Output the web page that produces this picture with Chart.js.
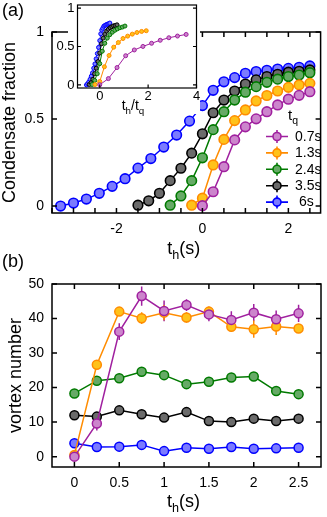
<!DOCTYPE html>
<html>
<head>
<meta charset="utf-8">
<script src="https://cdn.jsdelivr.net/npm/chart.js@4.4.1/dist/chart.umd.min.js"></script>
<style>
  html, body { margin: 0; padding: 0; background: #fff; }
  #wrap { position: relative; width: 327px; height: 517px; overflow: hidden; }
  canvas { position: absolute; }
  #chartA { left: 0; top: 0; }
  #chartB { left: 0; top: 250px; }
  #inset { left: 55px; top: 0; z-index: 2; }
</style>
</head>
<body>
<div id="wrap">
  <canvas id="chartA" width="327" height="265"></canvas>
  <canvas id="chartB" width="327" height="267"></canvas>
  <canvas id="inset" width="147" height="120"></canvas>
</div>
<script>
const FONT = '"Liberation Sans", Arial, Helvetica, sans-serif';

// quench times t_q
const quenchLabels = ['0.7s', '1.3s', '2.4s', '3.5s', ' 6s'];
const quenchTimes = [0.7, 1.3, 2.4, 3.5, 6];

// (a) condensate fraction vs hold time t_h (s)
const holdPurple = [0, 0.25, 0.5, 0.75, 1, 1.25, 1.5, 1.75, 2, 2.25, 2.5];
const fracPurple = [0.002, 0.082, 0.226, 0.38, 0.455, 0.501, 0.542, 0.581, 0.614, 0.636, 0.657];
const holdOrange = [-0.25, 0, 0.25, 0.5, 0.75, 1, 1.25, 1.5, 1.75, 2, 2.25, 2.5];
const fracOrange = [0.005, 0.045, 0.236, 0.383, 0.491, 0.552, 0.604, 0.635, 0.661, 0.682, 0.696, 0.705];
const holdGreen = [-0.75, -0.5, -0.25, 0, 0.25, 0.5, 0.75, 1, 1.25, 1.5, 1.75, 2, 2.25, 2.5];
const fracGreen = [0.005, 0.058, 0.146, 0.277, 0.439, 0.542, 0.609, 0.654, 0.686, 0.711, 0.729, 0.744, 0.753, 0.766];
const holdBlack = [-1.5, -1.25, -1, -0.75, -0.5, -0.25, 0, 0.25, 0.5, 0.75, 1, 1.25, 1.5, 1.75, 2, 2.25, 2.5];
const fracBlack = [0.005, 0.03, 0.073, 0.146, 0.217, 0.304, 0.415, 0.536, 0.609, 0.661, 0.701, 0.725, 0.744, 0.757, 0.769, 0.774, 0.782];
const holdBlue = [-3.3, -3, -2.7, -2.4, -2.1, -1.8, -1.5, -1.2, -0.9, -0.6, -0.3, 0, 0.25, 0.5, 0.75, 1, 1.25, 1.5, 1.75, 2, 2.25, 2.5];
const fracBlue = [0, 0.017, 0.04, 0.073, 0.113, 0.157, 0.218, 0.273, 0.339, 0.408, 0.488, 0.577, 0.665, 0.714, 0.738, 0.763, 0.773, 0.78, 0.787, 0.791, 0.797, 0.805];

// (b) vortex number vs hold time t_h (s)
const holdB = [0, 0.25, 0.5, 0.75, 1, 1.25, 1.5, 1.75, 2, 2.25, 2.5];
const vortexPurple = [0, 9.6, 36.2, 46.5, 42.2, 43.9, 41.2, 39.6, 41.7, 39.8, 41.5];
const vortexOrange = [0.5, 26.6, 42.0, 40.1, 41.7, 40.3, 42.0, 37.6, 36.9, 37.7, 37.1];
const vortexGreen = [18.3, 22.0, 22.7, 24.6, 23.6, 21.0, 21.7, 22.9, 23.2, 19.0, 18.1];
const vortexBlack = [12.0, 11.6, 13.4, 12.3, 11.3, 12.9, 10.3, 10.0, 11.0, 10.3, 11.0];
const vortexBlue = [3.9, 2.8, 2.9, 3.4, 1.6, 2.6, 2.3, 2.8, 2.3, 2.4, 2.6];
const errPurple = [0.5, 2, 2.4, 2.8, 3, 1.7, 2, 2.5, 2.5, 2.5, 2.5];
const errOrange = [0.5, 1, 1, 1.7, 2.2, 1.5, 1.5, 1.5, 2.5, 2.5, 1];

// ticks
const tickXA = [-3.5, -3, -2.5, -2, -1.5, -1, -0.5, 0, 0.5, 1, 1.5, 2, 2.5];
const labelXA = [-2, 0, 2];
const tickYA = [0, 0.5, 1];
const tickXInset = [0, 2, 4];
const tickYInset = [0, 0.5, 1];
const tickXB = [0, 0.5, 1, 1.5, 2, 2.5];
const tickYB = [0, 10, 20, 30, 40, 50];

const lineColors = ['#a0209f', '#ff8c00', '#007a00', '#000000', '#0000ff'];
const fillColors = ['#cc85cc', '#ffc21a', '#66aa66', '#6b6b6b', '#7b7bff'];

const holdA = [holdPurple, holdOrange, holdGreen, holdBlack, holdBlue];
const fracA = [fracPurple, fracOrange, fracGreen, fracBlack, fracBlue];
const vortexB = [vortexPurple, vortexOrange, vortexGreen, vortexBlack, vortexBlue];
const errB = [errPurple, errOrange, null, null, null];

function drawSub(ctx, x, y, parts, size, align) {
  const sizes = parts.map(p => p[1] ? size * 0.7 : size);
  const widths = parts.map((p, i) => { ctx.font = sizes[i] + 'px ' + FONT; return ctx.measureText(p[0]).width; });
  const w = widths.reduce((s, v) => s + v, 0);
  let cx = align === 'left' ? x : x - w / 2;
  ctx.textAlign = 'left';
  parts.forEach((p, i) => {
    ctx.font = sizes[i] + 'px ' + FONT;
    ctx.fillText(p[0], cx, p[1] ? y + size * 0.25 : y);
    cx += widths[i];
  });
}

function makeAxis(min, max, labels, size, pad, fit, horizontal) {
  return {
    type: 'linear', min: min, max: max,
    grid: { display: false, drawTicks: false },
    border: { display: false },
    ticks: { font: { family: FONT, size: size }, color: '#000', padding: pad, maxRotation: 0, autoSkip: false, callback: v => String(v) },
    afterBuildTicks: s => { s.ticks = labels.map(v => ({ value: v })); },
    afterFit: s => {
      if (horizontal) s.height = fit; else s.width = fit;
      s.paddingLeft = s.paddingRight = s.paddingTop = s.paddingBottom = 0;
    }
  };
}

// box round the plot with inward ticks
const framePlugin = {
  id: 'frame',
  afterDraw(chart, args, o) {
    const ctx = chart.ctx, a = chart.chartArea, sx = chart.scales.x, sy = chart.scales.y;
    ctx.save();
    ctx.strokeStyle = '#000';
    ctx.lineWidth = o.width;
    ctx.beginPath();
    o.xTicks.forEach(v => {
      const p = sx.getPixelForValue(v);
      ctx.moveTo(p, a.bottom); ctx.lineTo(p, a.bottom - o.len);
      if (o.mirrorX) { ctx.moveTo(p, a.top); ctx.lineTo(p, a.top + o.len); }
    });
    o.yTicks.forEach(v => {
      const p = sy.getPixelForValue(v);
      ctx.moveTo(a.left, p); ctx.lineTo(a.left + o.len, p);
      if (o.mirrorY) { ctx.moveTo(a.right, p); ctx.lineTo(a.right - o.len, p); }
    });
    ctx.stroke();
    ctx.strokeRect(a.left, a.top, a.right - a.left, a.bottom - a.top);
    ctx.restore();
  }
};

const textA = {
  id: 'textA',
  afterDraw(chart) {
    const ctx = chart.ctx, a = chart.chartArea;
    ctx.save();
    ctx.fillStyle = '#000';
    ctx.textBaseline = 'alphabetic';
    ctx.font = '18px ' + FONT;
    ctx.textAlign = 'left';
    ctx.fillText('(a)', 2, 16);
    drawSub(ctx, (a.left + a.right) / 2 - 2.5, 254, [['t'], ['h', 1], ['(s)']], 18);
    // legend
    drawSub(ctx, 288, 120, [['t'], ['q', 1]], 15, 'left');
    chart.data.datasets.forEach((ds, i) => {
      const y = 136.5 + i * 16.4;
      ctx.strokeStyle = ds.borderColor;
      ctx.lineWidth = 1.6;
      ctx.beginPath();
      ctx.moveTo(266, y); ctx.lineTo(288, y);
      ctx.moveTo(277, y - 6.5); ctx.lineTo(277, y + 6.5);
      ctx.stroke();
      ctx.beginPath();
      ctx.arc(277, y, 4, 0, Math.PI * 2);
      ctx.fillStyle = ds.backgroundColor;
      ctx.fill(); ctx.stroke();
      ctx.fillStyle = '#000';
      ctx.font = '14px ' + FONT;
      ctx.textAlign = 'left';
      ctx.textBaseline = 'middle';
      ctx.fillText(ds.label, 295, y + 0.5);
      ctx.textBaseline = 'alphabetic';
    });
    ctx.translate(15, (a.top + a.bottom) / 2);
    ctx.rotate(-Math.PI / 2);
    ctx.textAlign = 'center';
    ctx.font = '18px ' + FONT;
    ctx.fillText('Condensate fraction', 0, 0);
    ctx.restore();
  }
};

const textB = {
  id: 'textB',
  afterDraw(chart) {
    const ctx = chart.ctx, a = chart.chartArea;
    ctx.save();
    ctx.fillStyle = '#000';
    ctx.textBaseline = 'alphabetic';
    ctx.font = '18px ' + FONT;
    ctx.textAlign = 'left';
    ctx.fillText('(b)', 2, 17);
    drawSub(ctx, (a.left + a.right) / 2 - 3, 257, [['t'], ['h', 1], ['(s)']], 18);
    ctx.translate(21, (a.top + a.bottom) / 2);
    ctx.rotate(-Math.PI / 2);
    ctx.textAlign = 'center';
    ctx.font = '18px ' + FONT;
    ctx.fillText('vortex number', 0, 0);
    ctx.restore();
  }
};

const textInset = {
  id: 'textInset',
  beforeDraw(chart) {
    const ctx = chart.ctx;
    ctx.save();
    ctx.fillStyle = '#fff';
    ctx.fillRect(13, 0, 132, 114);
    ctx.restore();
  },
  afterDraw(chart) {
    const ctx = chart.ctx;
    ctx.save();
    ctx.fillStyle = '#000';
    ctx.textBaseline = 'alphabetic';
    drawSub(ctx, 78, 110, [['t'], ['h', 1], ['/t'], ['q', 1]], 14);
    ctx.restore();
  }
};

const errorBars = {
  id: 'errorBars',
  beforeDatasetsDraw(chart) {
    const ctx = chart.ctx, sx = chart.scales.x, sy = chart.scales.y;
    ctx.save();
    ctx.lineWidth = 1.5;
    chart.data.datasets.forEach(ds => {
      if (!ds.errors) return;
      ctx.strokeStyle = ds.borderColor;
      ctx.beginPath();
      ds.data.forEach((p, i) => {
        const x = sx.getPixelForValue(p.x);
        ctx.moveTo(x, sy.getPixelForValue(p.y - ds.errors[i]));
        ctx.lineTo(x, sy.getPixelForValue(p.y + ds.errors[i]));
      });
      ctx.stroke();
    });
    ctx.restore();
  }
};

function series(xs, ys, i, r, bw, lw, scaleX) {
  return {
    label: quenchLabels[i],
    data: xs.map((t, k) => ({ x: t / scaleX, y: ys[k] })),
    borderColor: lineColors[i],
    backgroundColor: fillColors[i],
    pointBackgroundColor: fillColors[i],
    pointBorderColor: lineColors[i],
    pointRadius: r,
    pointBorderWidth: bw,
    borderWidth: lw,
    tension: 0,
    clip: false
  };
}

const common = { responsive: false, animation: false, devicePixelRatio: 1, events: [] };

new Chart(document.getElementById('chartA'), {
  type: 'line',
  data: { datasets: holdA.map((xs, i) => series(xs, fracA[i], i, 4.8, 1.6, 1.5, 1)) },
  options: Object.assign({}, common, {
    layout: { padding: { left: 0, top: 32, right: 3, bottom: 0 } },
    plugins: {
      legend: { display: false }, tooltip: { enabled: false },
      frame: { xTicks: tickXA, yTicks: tickYA, len: 5, width: 1.5, mirrorX: true, mirrorY: true }
    },
    scales: {
      x: makeAxis(-3.5, 2.75, labelXA, 14, 8, 52, true),
      y: makeAxis(-0.04, 1, tickYA, 14, 8, 52, false)
    }
  }),
  plugins: [framePlugin, textA]
});

new Chart(document.getElementById('inset'), {
  type: 'line',
  data: { datasets: holdA.map((xs, i) => series(xs, fracA[i], i, 2, 1, 1, quenchTimes[i])) },
  options: Object.assign({}, common, {
    layout: { padding: { left: 0, top: 5, right: 5.5, bottom: 0 } },
    plugins: {
      legend: { display: false }, tooltip: { enabled: false },
      frame: { xTicks: tickXInset, yTicks: tickYInset, len: 3.5, width: 1.2, mirrorX: false, mirrorY: true }
    },
    scales: {
      x: makeAxis(-0.92, 4, tickXInset, 13, 1, 32, true),
      y: makeAxis(-0.04, 1.04, tickYInset, 13, 3, 22.5, false)
    }
  }),
  plugins: [framePlugin, textInset]
});

new Chart(document.getElementById('chartB'), {
  type: 'line',
  data: {
    datasets: vortexB.map((ys, i) => {
      const ds = series(holdB, ys, i, 4.5, 1.5, 1.5, 1);
      if (errB[i]) ds.errors = errB[i];
      return ds;
    })
  },
  options: Object.assign({}, common, {
    layout: { padding: { left: 0, top: 34, right: 2, bottom: 0 } },
    plugins: {
      legend: { display: false }, tooltip: { enabled: false },
      frame: { xTicks: tickXB, yTicks: tickYB, len: 5, width: 1.5, mirrorX: true, mirrorY: true }
    },
    scales: {
      x: makeAxis(-0.25, 2.75, tickXB, 14, 8, 50, true),
      y: makeAxis(-3, 50, tickYB, 14, 8, 52, false)
    }
  }),
  plugins: [framePlugin, errorBars, textB]
});
</script>
</body>
</html>
